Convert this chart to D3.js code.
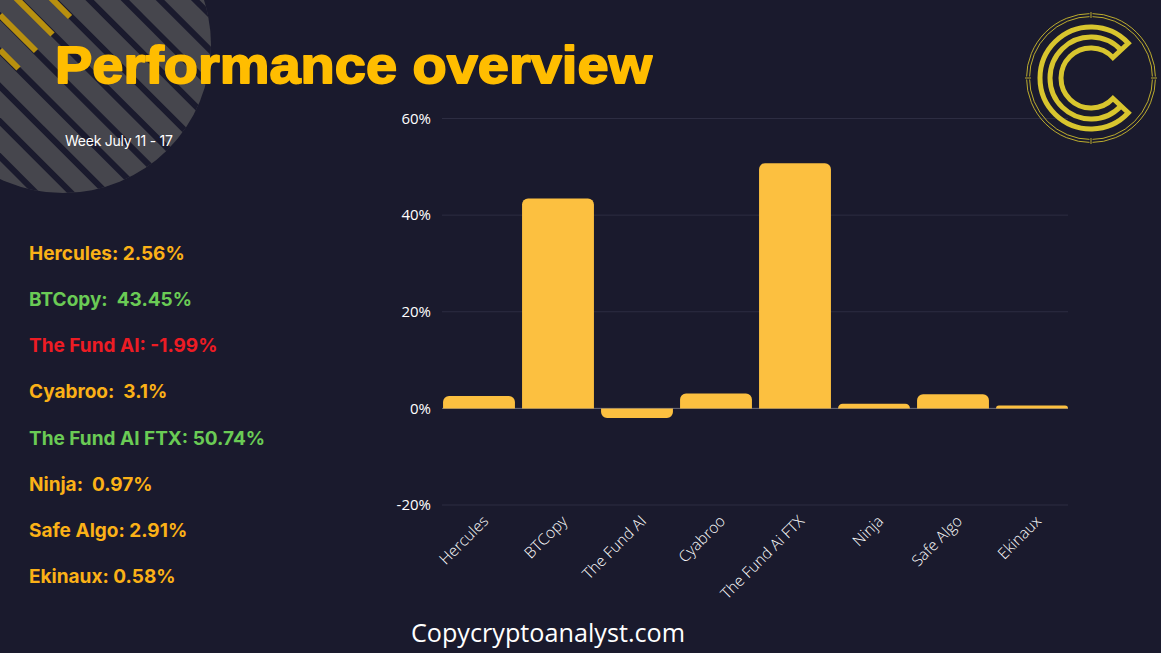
<!DOCTYPE html>
<html>
<head>
<meta charset="utf-8">
<script src="https://cdn.jsdelivr.net/npm/d3@7"></script>
<style>
  html, body { margin: 0; padding: 0; background: #1a1a2d; overflow: hidden; }
</style>
</head>
<body>
<script>
// chart data
const categories = ["Hercules", "BTCopy", "The Fund AI", "Cyabroo", "The Fund Ai FTX", "Ninja", "Safe Algo", "Ekinaux"];
const values = [2.56, 43.45, -1.99, 3.1, 50.74, 0.97, 2.91, 0.58];
const yTicks = [-20, 0, 20, 40, 60];

// left hand list
const listLabels = ["Hercules: 2.56%", "BTCopy:  43.45%", "The Fund AI: -1.99%", "Cyabroo:  3.1%", "The Fund AI FTX: 50.74%", "Ninja:  0.97%", "Safe Algo: 2.91%", "Ekinaux: 0.58%"];
const listColors = ["#fbb117", "#6acb55", "#ed1c24", "#fbb117", "#6acb55", "#fbb117", "#fbb117", "#fbb117"];

const w = 1161;
const h = 653;
const bg = "#1a1a2d";

const svg = d3
  .select("body")
  .append("svg")
  .attr("width", w)
  .attr("height", h)
  .style("display", "block");

svg.append("rect").attr("width", w).attr("height", h).attr("fill", bg);

// striped circle, top left
const blobX = 63;
const blobY = 45;
const blobR = 148;
svg.append("clipPath").attr("id", "blob").append("circle").attr("cx", blobX).attr("cy", blobY).attr("r", blobR);
const deco = svg.append("g").attr("clip-path", "url(#blob)");
deco.append("rect").attr("width", 300).attr("height", 250).attr("fill", "#46464d");
d3.range(-192, 230, 35.2).forEach((c) => {
  deco
    .append("line")
    .attr("x1", c - 100)
    .attr("y1", -100)
    .attr("x2", c + 300)
    .attr("y2", 300)
    .attr("stroke", bg)
    .attr("stroke-width", 6);
});
// gold part of the stripes
[-50, -15, 18, 53].forEach((c) => {
  svg
    .append("line")
    .attr("x1", 0)
    .attr("y1", -c)
    .attr("x2", (87 + c) / 2)
    .attr("y2", (87 - c) / 2)
    .attr("stroke", "#b8900f")
    .attr("stroke-width", 6)
    .attr("clip-path", "url(#blob)");
});

// title
svg
  .append("text")
  .attr("x", 55)
  .attr("y", 83)
  .attr("font-family", "'Liberation Sans', Arial, sans-serif")
  .attr("font-weight", 700)
  .attr("font-size", 52)
  .attr("textLength", 597)
  .attr("lengthAdjust", "spacingAndGlyphs")
  .attr("fill", "#ffbd00")
  .attr("stroke", "#ffbd00")
  .attr("stroke-width", 1.8)
  .attr("stroke-linejoin", "round")
  .text("Performance overview");

svg
  .append("text")
  .attr("x", 65)
  .attr("y", 146)
  .attr("font-family", "Inter, sans-serif")
  .attr("font-size", 14)
  .attr("letter-spacing", -0.25)
  .attr("fill", "#ffffff")
  .text("Week July 11 - 17");

// list
const listY = d3.scalePoint().domain(listLabels).range([260, 583]);
svg
  .append("g")
  .selectAll("text")
  .data(listLabels)
  .enter()
  .append("text")
  .attr("x", 29)
  .attr("y", (d) => listY(d))
  .attr("font-family", "Inter, sans-serif")
  .attr("font-weight", 700)
  .attr("font-size", 19)
  .attr("fill", (d, i) => listColors[i])
  .style("white-space", "pre")
  .text((d) => d);

// scales
const xScale = d3.scaleBand().domain(categories).range([439.5, 1071.5]).paddingInner(0.09).paddingOuter(0.045);
const yScale = d3.scaleLinear().domain([-20, 60]).range([505, 118.5]);

// grid
const yAxis = d3
  .axisLeft(yScale)
  .tickValues(yTicks)
  .tickFormat((d) => d + "%")
  .tickSize(0)
  .tickPadding(11);

const yG = svg.append("g").attr("transform", "translate(442,0)").call(yAxis);
yG.select(".domain").remove();
yG.selectAll("text")
  .attr("font-family", "'Open Sans', sans-serif")
  .attr("font-size", 15)
  .attr("fill", "#ffffff");

svg
  .append("g")
  .selectAll("line")
  .data(yTicks)
  .enter()
  .append("line")
  .attr("x1", 442)
  .attr("x2", 1068)
  .attr("y1", (d) => yScale(d))
  .attr("y2", (d) => yScale(d))
  .attr("stroke", (d) => (d === 0 ? "#6b6b7c" : "#2d2d42"))
  .attr("stroke-width", 1);

// bars with rounded free end
const barPath = (d, i) => {
  const x0 = xScale(categories[i]);
  const x1 = x0 + xScale.bandwidth();
  const y0 = yScale(0);
  const y1 = yScale(d);
  const r = Math.min(6, Math.abs(y1 - y0));
  const s = d >= 0 ? 1 : -1;
  const sweep = d >= 0 ? 1 : 0;
  return `M${x0},${y0}V${y1 + s * r}A${r},${r} 0 0 ${sweep} ${x0 + r},${y1}H${x1 - r}A${r},${r} 0 0 ${sweep} ${x1},${y1 + s * r}V${y0}Z`;
};

svg
  .append("g")
  .selectAll("path")
  .data(values)
  .enter()
  .append("path")
  .attr("d", barPath)
  .attr("fill", "#fcc040");

// x labels
const xAxis = d3.axisBottom(xScale).tickSize(0).tickPadding(0);
const xG = svg.append("g").attr("transform", "translate(-4,521)").call(xAxis);
xG.select(".domain").remove();
xG.selectAll("text")
  .attr("font-family", "'Open Sans', sans-serif")
  .attr("font-size", 15.5)
  .attr("font-weight", 300)
  .attr("fill", "#ffffff")
  .attr("text-anchor", "end")
  .attr("dy", "0.7em")
  .attr("dx", "0.6em")
  .attr("transform", "rotate(-45)");

// footer
svg
  .append("text")
  .attr("x", 548)
  .attr("y", 642)
  .attr("text-anchor", "middle")
  .attr("font-family", "'Open Sans', sans-serif")
  .attr("font-size", 25.2)
  .attr("font-weight", 500)
  .attr("fill", "#ffffff")
  .text("Copycryptoanalyst.com");

// logo
const logo = svg.append("g").attr("transform", "translate(1091,78)").attr("fill", "none").attr("stroke", "#d8c52e");
[64.5, 61.5].forEach((r) => {
  logo.append("circle").attr("r", r).attr("stroke-width", 1).attr("stroke-opacity", 0.85);
});
// small notches in the ring
[0, 90, 180, 270].forEach((a) => {
  logo
    .append("line")
    .attr("x1", 60)
    .attr("x2", 66)
    .attr("transform", `rotate(${a})`)
    .attr("stroke-width", 3)
    .attr("stroke", bg);
  logo
    .append("line")
    .attr("x1", 60)
    .attr("x2", 66)
    .attr("transform", `rotate(${a})`)
    .attr("stroke-width", 1)
    .attr("stroke-opacity", 0.85);
});
const pt = (r, deg) => [r * Math.cos((deg * Math.PI) / 180), r * Math.sin((deg * Math.PI) / 180)];
const outer = [pt(51, -43), pt(51, 43)];
const inner = [pt(30, -43), pt(30, 43)];
logo
  .append("path")
  .attr("stroke-width", 5)
  .attr("stroke-linejoin", "miter")
  .attr("d", `M${outer[0]}A51,51 0 1 0 ${outer[1]}L${inner[1]}A30,30 0 1 1 ${inner[0]}Z`);
const mid = [pt(41, -43), pt(41, 43)];
logo
  .append("path")
  .attr("stroke-width", 5)
  .attr("d", `M${mid[0]}A41,41 0 1 0 ${mid[1]}`);
</script>
</body>
</html>
